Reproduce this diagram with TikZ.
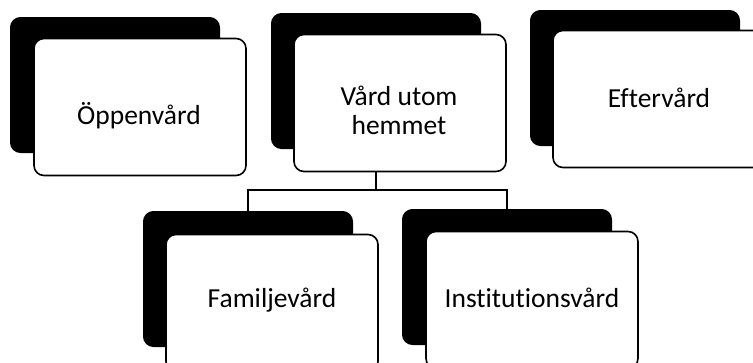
\documentclass[tikz,border=0pt]{standalone}
\usepackage{fontspec}
\setmainfont{Carlito}[Ligatures=NoCommon]
\usetikzlibrary{backgrounds}
\begin{document}
\begin{tikzpicture}[x=1pt,y=-1pt,
  back/.style={fill=black, draw=black, line width=1pt, rounded corners=10pt, minimum width=209pt, minimum height=135pt, inner sep=0pt},
  front/.style={fill=white, draw=black, line width=1.6pt, rounded corners=10pt, minimum width=212pt, minimum height=137pt, inner sep=0pt},
  lbl/.style={font=\fontsize{27.5}{29}\selectfont, align=center, inner sep=0pt},
  conn/.style={draw=black, line width=1.6pt}]
\useasboundingbox (0,0) rectangle (753,362);
% shadow boxes
\node[back] (oppb) at (115,85) {};
\node[back] (vardb) at (376,81) {};
\node[back] (efterb) at (635,78) {};
\node[back] (familjb) at (248,279) {};
\node[back] (institb) at (507,277) {};
% front boxes
\node[front] (opp) at (140,107) {};
\node[front] (vard) at (400,103) {};
\node[front] (efter) at (659,99) {};
\node[front] (familj) at (272,303) {};
\node[front] (instit) at (532,300) {};
% labels
\node[lbl] (oppt) at (139,116) {Öppenvård};
\node[lbl] (vardt) at (399,110) {Vård utom\\hemmet};
\node[lbl] (eftert) at (659,98) {Eftervård};
\node[lbl] (familjt) at (272,300) {Familjevård};
\node[lbl] (institt) at (532,298) {Institutionsvård};
% connectors
\coordinate (junc) at (376,190);
\begin{scope}[on background layer]
\draw[conn] (vardb) -- (junc) -| (familjb.north);
\draw[conn] (junc) -| (institb.north);
\end{scope}
\end{tikzpicture}
\end{document}
